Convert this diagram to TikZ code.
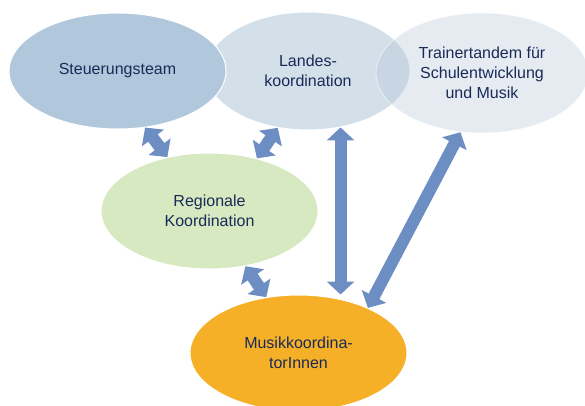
\documentclass[tikz,border=0pt]{standalone}
\usepackage{fontspec}
\setmainfont{Liberation Sans}
\usepackage{xcolor}
\usetikzlibrary{shapes.geometric,arrows.meta}
\definecolor{steuerblau}{RGB}{176,199,220}
\definecolor{landesblau}{RGB}{211,223,233}
\definecolor{trainerblau}{RGB}{180,197,217}
\definecolor{regiogruen}{RGB}{215,233,193}
\definecolor{musikorange}{RGB}{245,176,39}
\definecolor{pfeilblau}{RGB}{108,142,195}
\definecolor{textblau}{RGB}{25,42,88}

\begin{document}
\begin{tikzpicture}[x=1pt, y=-1pt,
    every node/.style={ellipse, draw=white, line width=1pt, align=center, inner sep=0pt,
        text=textblau, font=\fontsize{16}{20}\selectfont},
    link/.style={line width=12pt, draw=pfeilblau,
        {Triangle[width=27pt,length=13pt]}-{Triangle[width=27pt,length=13pt]}}]
            \fill[white] (0,0) rectangle (585,405);
            \useasboundingbox (0,0) rectangle (585,405);

            \node[fill=landesblau, minimum width=204pt, minimum height=118pt] (landes) at (308, 71) {Landes-\\koordination};
            \node[fill=trainerblau, fill opacity=0.33, text opacity=1, draw opacity=0.5, minimum width=212pt, minimum height=120pt] (trainer) at (482, 73) {Trainertandem für\\Schulentwicklung\\und Musik};
            \node[fill=steuerblau, minimum width=217pt, minimum height=116pt] (steuer) at (117.5, 71) {Steuerungsteam};
            \node[fill=regiogruen, minimum width=217pt, minimum height=116pt] (regio) at (209.5, 211) {Regionale\\Koordination};
            \node[fill=musikorange, minimum width=217pt, minimum height=116pt] (musik) at (298.5, 353) {Musikkoordina-\\torInnen};

            \draw[link] (steuer.-64) -- (regio.128);
            \draw[link] (landes.-118) -- (regio.48);
            \draw[link] (landes.-60) -- (landes.-60 |- musik.north);
            \draw[link] (trainer.-110) -- (musik.33);
            \draw[link] (regio.-57) -- (musik.120);
        \end{tikzpicture}
\end{document}
